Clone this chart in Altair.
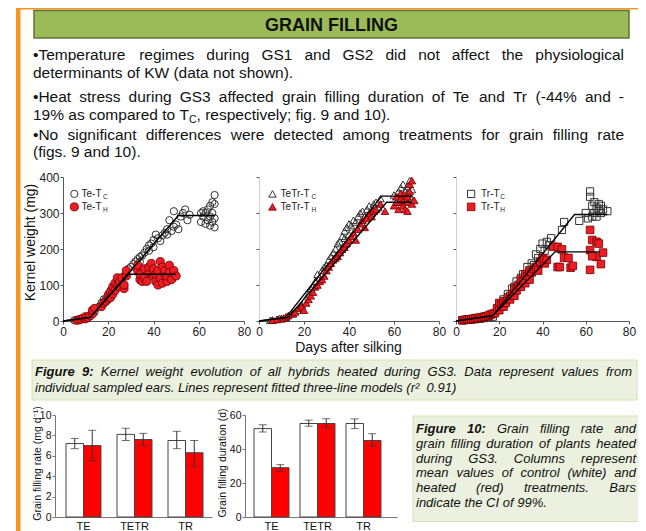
import altair as alt
import pandas as pd

W, H = 630, 523
FONT = "Liberation Sans, Arial, Helvetica, sans-serif"

# ------------------------------------------------------------------ Figure 9 data
# (days after silking, kernel weight in mg)
te_tc = [(5,2),(7,4),(8,6),(9,8),(10,10),(11,12),(12,14),(14,25),(16,40),(17,50),(18,60),(19,62),(20,75),
         (21,85),(22,92),(23,100),(24,108),(25,112),(26,120),(27,125),(28,138),(29,145),(30,150),(31,158),
         (32,165),(33,172),(34,178),(34,165),(35,182),(36,190),(37,200),(38,195),(38,210),(39,215),(40,205),
         (40,225),(41,240),(42,230),(43,222),(44,238),(45,245),(46,255),(46,240),(47,280),(48,250),(49,262),
         (49,305),(50,268),(51,255),(52,290),(53,300),(54,310),(55,280),(56,295),(61,275),(61,300),(62,290),
         (62,305),(63,270),(63,300),(64,280),(64,310),(65,265),(65,290),(65,320),(66,275),(66,300),(66,330),
         (67,260),(67,285),(67,350),(67,325)]
te_th = [(6,2),(7,3),(8,5),(9,8),(10,6),(10,12),(11,10),(12,15),(13,20),(13,30),(14,35),(17,40),(18,50),
         (19,55),(20,62),(20,70),(21,65),(21,80),(22,75),(22,95),(23,85),(23,105),(24,100),(24,120),(25,95),
         (25,110),(26,120),(27,90),(27,100),(28,125),(28,140),(33,140),(33,155),(34,115),(34,130),(35,110),
         (36,120),(36,145),(37,110),(38,135),(38,150),(39,160),(40,125),(40,145),(41,110),(41,130),(42,100),
         (42,140),(43,120),(43,165),(44,105),(44,150),(45,130),(45,140),(46,110),(46,125),(47,155),(47,135),
         (48,115),(49,140),(50,125)]
tetr_tc = [(5,2),(6,3),(8,5),(9,7),(10,8),(12,10),(15,20),(17,30),(19,45),(20,55),(22,75),(23,90),(24,95),
           (25,110),(26,130),(27,120),(28,140),(29,150),(30,155),(31,170),(32,180),(33,190),(34,200),(35,215),
           (36,220),(37,235),(38,250),(38,230),(39,260),(40,240),(40,270),(41,265),(42,280),(43,275),(44,290),
           (45,300),(46,305),(47,290),(48,310),(49,320),(50,300),(51,325),(52,330),(53,315),(54,340),(60,350),
           (61,330),(62,345),(62,360),(63,335),(63,370),(64,350),(64,380),(65,340),(65,360),(66,355),(66,375),
           (67,345),(67,390),(68,365),(68,340)]
tetr_th = [(6,2),(8,4),(10,6),(11,8),(12,12),(13,15),(15,20),(16,25),(18,35),(19,40),(20,30),(21,50),(22,60),
           (23,70),(24,80),(25,95),(26,100),(27,110),(28,115),(29,125),(30,140),(31,150),(32,160),(33,170),
           (34,175),(35,180),(36,190),(37,200),(38,205),(39,215),(40,225),(41,235),(42,245),(43,225),(44,255),
           (45,270),(46,280),(47,260),(48,285),(49,300),(50,290),(51,305),(52,310),(54,325),(56,305),(60,320),
           (61,345),(62,330),(62,310),(63,340),(63,355),(64,320),(64,335),(65,350),(65,310),(66,330),(66,345),
           (67,360),(67,380),(68,325),(68,390),(66,305),(69,335)]
tr_tc = [(3,2),(5,3),(7,4),(9,5),(11,6),(13,8),(15,10),(17,12),(19,30),(20,45),(21,40),(22,60),(23,55),
         (24,75),(25,70),(26,90),(27,95),(28,110),(29,100),(30,120),(31,130),(32,125),(33,150),(34,140),
         (35,160),(36,155),(37,185),(38,175),(39,200),(40,215),(41,195),(42,220),(43,210),(44,230),(49,253),
         (50,275),(57,278),(60,300),(61,285),(62,360),(62,345),(63,290),(63,320),(64,300),(64,330),(65,290),
         (65,315),(66,310),(66,325),(67,300),(67,320),(68,310),(70,305)]
tr_th = [(3,2),(4,3),(5,4),(6,5),(7,5),(8,6),(9,8),(10,8),(11,9),(12,10),(13,12),(14,13),(15,15),(16,18),
         (17,20),(18,22),(19,35),(20,50),(20,30),(21,45),(22,40),(22,55),(23,50),(24,65),(25,60),(26,75),
         (27,90),(27,70),(28,85),(29,100),(30,95),(30,115),(31,110),(32,105),(32,130),(33,125),(34,115),
         (34,140),(35,135),(36,145),(37,150),(38,140),(39,165),(40,175),(41,160),(42,170),(45,206),(47,206),
         (49,199),(50,176),(52,175),(47,150),(48,150),(53,148),(54,153),(62,197),(62,253),(63,225),(65,220),
         (66,215),(65,178),(67,158),(68,190),(62,142),(63,180)]

# fitted three-line models (breakpoints)
fit_te_tc = [(0,0),(12,10),(51,293),(67,293)]
fit_te_th = [(0,0),(12,10),(29,130),(50,130)]
fit_tetr_tc = [(0,0),(12,10),(54.5,347),(68,347)]
fit_tetr_th = [(0,0),(13,10),(56.7,330),(68,330)]
fit_tr_tc = [(0,0),(17,15),(54.8,296),(70,296)]
fit_tr_th = [(0,0),(17,15),(45.8,192),(66.5,192)]

# ------------------------------------------------------------------ Figure 10 data
categories = ["TE", "TETR", "TR"]
rate_ctrl = [7.2, 8.1, 7.5]
rate_ctrl_lo = [6.7, 7.5, 6.7]
rate_ctrl_hi = [7.7, 8.7, 8.4]
rate_heat = [7.0, 7.6, 6.3]
rate_heat_lo = [5.5, 7.0, 5.0]
rate_heat_hi = [8.5, 8.2, 7.5]
dur_ctrl = [52, 55, 55]
dur_ctrl_lo = [50, 53.4, 52]
dur_ctrl_hi = [54.2, 57, 57.7]
dur_heat = [29, 55, 45]
dur_heat_lo = [26.9, 52.5, 41.8]
dur_heat_hi = [30.8, 57.8, 49]

# ------------------------------------------------------------------ texts
header_text = "GRAIN FILLING"
bullet1a = "•Temperature regimes during GS1 and GS2 did not affect the physiological"
bullet1b = "determinants of KW (data not shown)."
bullet2a = "•Heat stress during GS3 affected grain filling duration of Te and Tr (-44% and -"
bullet2b_pre = "19% as compared to"
bullet2b_post = "respectively; fig. 9 and 10)."
bullet3a = "•No significant differences were detected among treatments for grain filling rate"
bullet3b = "(figs. 9 and 10)."
cap9a = "Kernel weight evolution of all hybrids heated during GS3. Data represent values from"
cap9b = "individual sampled ears. Lines represent fitted three-line models (r²  0.91)"
cap10 = ["Grain filling rate and",
         "grain filling duration of plants heated",
         "during GS3. Columns represent",
         "mean values of control (white) and",
         "heated (red) treatments. Bars",
         "indicate the CI of 99%."]

# ------------------------------------------------------------------ text metrics (Arial / Helvetica widths, 1/1000 em)
_R = {}
for ch, w in zip(" !\"#$%&'()*+,-./0123456789:;<=>?@",
                 [278,278,355,556,556,889,667,191,333,333,389,584,278,333,278,278,
                  556,556,556,556,556,556,556,556,556,556,278,278,584,584,584,556,1015]):
    _R[ch] = w
for ch, w in zip("ABCDEFGHIJKLMNOPQRSTUVWXYZ",
                 [667,667,722,722,667,611,778,722,278,500,667,556,833,722,778,667,778,722,667,611,722,667,944,667,667,611]):
    _R[ch] = w
for ch, w in zip("abcdefghijklmnopqrstuvwxyz",
                 [556,556,500,556,556,278,556,556,222,222,500,222,833,556,556,556,556,333,500,278,556,500,722,500,500,500]):
    _R[ch] = w
_R.update({"•": 350, "²": 333, "≥": 549})
_B = dict(_R)
_B.update({":": 333, ";": 333})
for ch, w in zip("ABCDEFGHIJKLMNOPQRSTUVWXYZ",
                 [722,722,722,722,667,611,778,722,278,556,722,611,833,722,778,667,778,722,667,611,722,667,944,667,667,611]):
    _B[ch] = w
for ch, w in zip("abcdefghijklmnopqrstuvwxyz",
                 [556,611,556,611,556,333,611,611,278,278,556,278,889,611,611,611,611,389,556,333,611,556,778,556,556,500]):
    _B[ch] = w


def tw(s, size, kind):
    t = _B if "b" in kind else _R
    return sum(t.get(c, 556) for c in s) * size / 1000.0


tokens = []


def words(text, size, kind):
    return [[(w, size, kind, 0)] for w in text.split(" ")]


def put_line(ws, x0, y, x1=None):
    widths = [sum(tw(t, s, k) for t, s, k, d in w) for w in ws]
    if x1 is not None and len(ws) > 1:
        gap = (x1 - x0 - sum(widths)) / (len(ws) - 1)
    else:
        gap = tw(" ", ws[0][0][1], ws[0][0][2])
    x = x0
    for w, wd in zip(ws, widths):
        xx = x
        for t, s, k, d in w:
            tokens.append({"px": xx, "py": y + d, "text": t, "size": s, "kind": k})
            xx += tw(t, s, k)
        x += wd + gap


BS = 15.5
put_line(words(bullet1a, BS, "n"), 25, 52, 616)
put_line(words(bullet1b, BS, "n"), 25, 69.5)
put_line(words(bullet2a, BS, "n"), 25, 93.5, 616)
put_line(words(bullet2b_pre, BS, "n") + [[("T", BS, "n", 0), ("C", 10.5, "n", 3), (",", BS, "n", 0)]]
         + words(bullet2b_post, BS, "n"), 25, 111.5)
put_line(words(bullet3a, BS, "n"), 25, 132, 616)
put_line(words(bullet3b, BS, "n"), 25, 149)

CS = 13
put_line([[("Figure", CS, "bi", 0)], [("9:", CS, "bi", 0)]] + words(cap9a, CS, "i"), 27, 368, 624)
put_line(words(cap9b, CS, "i"), 27, 384)
cap10_y = [425, 440, 455, 469, 484, 499]
for i, (txt, yy) in enumerate(zip(cap10, cap10_y)):
    ws = words(txt, CS, "i")
    if i == 0:
        ws = [[("Figure", CS, "bi", 0)], [("10:", CS, "bi", 0)]] + ws
    put_line(ws, 408, yy, 628 if i < len(cap10) - 1 else None)

tok = pd.DataFrame(tokens)
one = pd.DataFrame({"a": [0]})


def rect(x, x2, y, y2, fill, stroke=None, sw=0):
    kw = dict(fill=fill, strokeWidth=sw)
    if stroke:
        kw["stroke"] = stroke
    return alt.Chart(one).mark_rect(**kw).encode(
        x=alt.value(x), x2=alt.value(x2), y=alt.value(y), y2=alt.value(y2))


def label(text, x, y, size, angle=0, weight="normal", color="#111"):
    return alt.Chart(one).mark_text(text=text, font=FONT, fontSize=size, fontWeight=weight, angle=angle,
                                    align="center", baseline="middle", color=color).encode(
        x=alt.value(x), y=alt.value(y))


layers = []
ORANGE = "#F7961E"
layers.append(rect(8, W, 0, 1.5, ORANGE))
layers.append(rect(8, 12.5, 0, H, ORANGE))
layers.append(rect(26, 621, 2.5, 30, "#9BBB59", "#5F7530", 1.5))
layers.append(alt.Chart(one).mark_text(text=header_text, font=FONT, fontSize=18, fontWeight="bold",
                                       align="center", baseline="alphabetic", color="#111").encode(
    x=alt.value(323.5), y=alt.value(22.5)))
layers.append(rect(24, 629, 352, 392, "#EBF1DE", "#D3E0B8", 1))
layers.append(rect(405, 633, 408, 513.5, "#EBF1DE", "#D3E0B8", 1))

styles = {"n": ("normal", "normal"), "i": ("italic", "normal"), "bi": ("italic", "bold")}
for k, (fs, fw) in styles.items():
    sub = tok[tok["kind"] == k]
    if len(sub) == 0:
        continue
    layers.append(alt.Chart(sub).mark_text(align="left", baseline="alphabetic", font=FONT, fontStyle=fs,
                                           fontWeight=fw, color="#111").encode(
        x=alt.X("px:Q", scale=None, axis=None),
        y=alt.Y("py:Q", scale=None, axis=None),
        text="text:N",
        size=alt.Size("size:Q", scale=None, legend=None)))


# ------------------------------------------------------------------ scatter panels
def to_df(pairs):
    return pd.DataFrame(pairs, columns=["day", "kw"])


def panel(ctrl, heat, fit_c, fit_h, shape, xr, show_labels, leg_x, txt_x, prefix):
    xs = alt.Scale(domain=[0, 80], range=xr, nice=False, zero=False)
    ys = alt.Scale(domain=[0, 400], range=[313, 169], nice=False)
    X = alt.X("day:Q", scale=xs, axis=alt.Axis(
        orient="bottom", offset=313 - H, values=[0, 20, 40, 60, 80], title=None, grid=False, tickSize=3,
        labelFontSize=12, labelPadding=2, labelFlush=False, labelFont=FONT, labelColor="#222",
        domainColor="#555", tickColor="#555"))
    Y = alt.Y("kw:Q", scale=ys, axis=alt.Axis(
        orient="left", offset=-xr[0], values=[0, 100, 200, 300, 400], title=None, grid=False, tickSize=3,
        labels=show_labels, labelFontSize=12, labelPadding=1, labelFont=FONT, labelColor="#222",
        domainColor="#555" if show_labels else "#D0D0D0", tickColor="#555"))
    size_open = 52 if shape != "triangle-up" else 55
    size_red = 66 if shape == "circle" else 58
    pts_c = alt.Chart(to_df(ctrl)).mark_point(shape=shape, filled=False, color="#333", strokeWidth=1,
                                              size=size_open, opacity=1).encode(X, Y)
    pts_h = alt.Chart(to_df(heat)).mark_point(shape=shape, filled=True, fill="#EE1C24", stroke="#6E0000",
                                              strokeWidth=0.8, size=size_red, opacity=1).encode(X, Y)
    fd = pd.concat([to_df(fit_c).assign(s="c"), to_df(fit_h).assign(s="h")])
    lines = alt.Chart(fd).mark_line(color="#000", strokeWidth=1.4).encode(X, Y, detail="s:N")
    leg_c = alt.Chart(to_df([(leg_x, 353)])).mark_point(shape=shape, filled=False, color="#333", strokeWidth=1,
                                                        size=size_open, opacity=1).encode(X, Y)
    leg_h = alt.Chart(to_df([(leg_x, 317)])).mark_point(shape=shape, filled=True, fill="#EE1C24",
                                                        stroke="#6E0000", strokeWidth=0.8, size=size_red,
                                                        opacity=1).encode(X, Y)
    leg_txt = alt.Chart(to_df([(txt_x, 353), (txt_x, 317)])).mark_text(
        text=prefix, align="left", baseline="middle", font=FONT, fontSize=10, color="#222").encode(X, Y)
    off = tw(prefix, 10, "n") + 0.3
    sub_c = alt.Chart(to_df([(txt_x, 353)])).mark_text(
        text="C", align="left", baseline="middle", font=FONT, fontSize=6.5, color="#222", dx=off, dy=3).encode(X, Y)
    sub_h = alt.Chart(to_df([(txt_x, 317)])).mark_text(
        text="H", align="left", baseline="middle", font=FONT, fontSize=6.5, color="#222", dx=off, dy=3).encode(X, Y)
    return alt.layer(pts_c, pts_h, lines, leg_c, leg_h, leg_txt, sub_c, sub_h)


layers.append(panel(te_tc, te_th, fit_te_tc, fit_te_th, "circle", [55, 236], True, 5.0, 8.2, "Te-T"))
layers.append(panel(tetr_tc, tetr_th, fit_tetr_tc, fit_tetr_th, "triangle-up", [251, 431], False, 6, 9.6, "TeTr-T"))
layers.append(panel(tr_tc, tr_th, fit_tr_tc, fit_tr_th, "square", [448, 621], False, 7, 11.6, "Tr-T"))
layers.append(label("Kernel weight (mg)", 23, 234.5, 14, angle=270))
layers.append(label("Days after silking", 340.5, 340, 14))


# ------------------------------------------------------------------ bar panels
def bar_panel(c, c_lo, c_hi, h, h_lo, h_hi, xr, p_in, p_out, al, y_dom, y_vals):
    df = pd.DataFrame({"cat": categories * 2, "trt": ["C"] * 3 + ["H"] * 3,
                       "val": c + h, "lo": c_lo + h_lo, "hi": c_hi + h_hi})
    xs = alt.Scale(domain=categories, range=xr, paddingInner=p_in, paddingOuter=p_out, align=al)
    ys = alt.Scale(domain=y_dom, range=[509, 407], nice=False)
    X = alt.X("cat:N", scale=xs, sort=categories, axis=alt.Axis(
        orient="bottom", offset=509 - H, title=None, ticks=False, labelAngle=0, labelFontSize=11,
        labelFont=FONT, labelColor="#111", labelPadding=3, domainColor="#777"))
    XO = alt.XOffset("trt:N", scale=alt.Scale(domain=["C", "H"]))
    ax = alt.Axis(orient="left", offset=-xr[0], values=y_vals, title=None, grid=False, tickSize=3,
                  labelFontSize=10.5, labelPadding=1, labelFont=FONT, labelColor="#111",
                  domainColor="#777", tickColor="#777")
    bars = alt.Chart(df).mark_bar(stroke="#444", strokeWidth=1).encode(
        X, XO, alt.Y("val:Q", scale=ys, axis=ax),
        color=alt.Color("trt:N", scale=alt.Scale(domain=["C", "H"], range=["#FFFFFF", "#FF0000"]), legend=None))
    rules = alt.Chart(df).mark_rule(color="#333", strokeWidth=1).encode(
        X, XO, alt.Y("lo:Q", scale=ys, axis=ax), y2="hi:Q")
    cap_lo = alt.Chart(df).mark_tick(color="#333", size=8, thickness=1).encode(
        X, XO, alt.Y("lo:Q", scale=ys, axis=ax))
    cap_hi = alt.Chart(df).mark_tick(color="#333", size=8, thickness=1).encode(
        X, XO, alt.Y("hi:Q", scale=ys, axis=ax))
    return alt.layer(bars, rules, cap_lo, cap_hi)


layers.append(bar_panel(rate_ctrl, rate_ctrl_lo, rate_ctrl_hi, rate_heat, rate_heat_lo, rate_heat_hi,
                        [47, 204], 0.314, 0.196, 0.55, [0, 10], [0, 2, 4, 6, 8, 10]))
layers.append(bar_panel(dur_ctrl, dur_ctrl_lo, dur_ctrl_hi, dur_heat, dur_heat_lo, dur_heat_hi,
                        [237, 389], 0.239, 0.272, 0.36, [0, 60], [0, 20, 40, 60]))
layers.append(label("Grain filling rate (mg d⁻¹)", 30, 455.5, 10.5, angle=270))
layers.append(label("Grain filling duration (d)", 215, 455, 10.5, angle=270))

chart = alt.layer(*layers).resolve_scale(
    x="independent", y="independent", xOffset="independent"
).properties(
    width=W, height=H, autosize=alt.AutoSizeParams(type="none"), padding=0
).configure_view(stroke=None)

chart.save("out.html", embed_options={"renderer": "svg", "actions": False})
